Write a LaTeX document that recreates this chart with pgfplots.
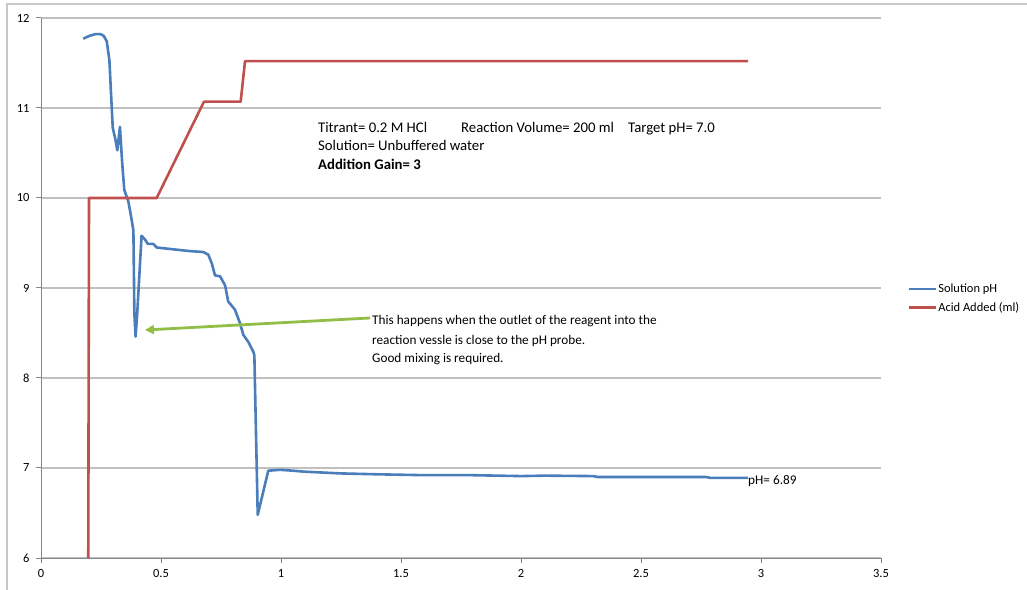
\documentclass[border=0pt]{standalone}
\usepackage{fontspec}
\setmainfont{Carlito}
\usepackage{pgfplots}
\pgfplotsset{compat=1.18}
\usetikzlibrary{arrows.meta}
\definecolor{phblue}{RGB}{74,126,187}
\definecolor{acidred}{RGB}{192,80,77}
\definecolor{arrowgreen}{RGB}{146,190,72}
\definecolor{gridgray}{RGB}{192,192,192}
\definecolor{axisgray}{RGB}{134,134,134}
\definecolor{framegray}{RGB}{200,200,200}

\begin{document}
\begin{tikzpicture}
\useasboundingbox (-41bp,-32bp) rectangle (986bp,558bp);
\draw[framegray, line width=1.6bp] (-34bp,-32bp) -- (-34bp,554bp) -- (986bp,554bp);
\begin{axis}[
  at={(0,0)}, anchor=south west,
  scale only axis, width=840bp, height=540bp,
  xmin=0, xmax=3.5, ymin=6, ymax=12,
  xtick={0,0.5,1,1.5,2,2.5,3,3.5}, ytick={6,7,8,9,10,11,12},
  axis x line*=bottom, axis y line*=left,
  axis line style={axisgray, line width=1bp, -},
  ymajorgrids, grid style={gridgray, line width=1.2bp},
  tick style={axisgray, line width=1bp},
  tick align=outside, major tick length=5bp,
  tick label style={font=\fontsize{12.5}{14}\selectfont, text=black},
  /pgf/number format/assume math mode=true,
  xticklabel style={yshift=-3bp},
  yticklabel style={xshift=-3bp},
  legend style={at={(1.031,0.481)}, anchor=west, draw=none, fill=none,
    font=\fontsize{12.5}{14}\selectfont, row sep=5bp, inner sep=0pt,
    nodes={inner sep=1.5bp}},
  legend cell align=left,
  legend image code/.code={\draw[#1] (0bp,0bp) -- (27bp,0bp);},
]
\addplot[phblue, line width=2.6bp, line join=round] coordinates {
(0.176,11.77) (0.200,11.80) (0.225,11.82) (0.249,11.82) (0.262,11.80)
(0.274,11.74) (0.285,11.53) (0.292,11.15) (0.299,10.78) (0.310,10.65)
(0.318,10.53) (0.329,10.79) (0.338,10.40) (0.347,10.09) (0.364,9.96)
(0.375,9.80) (0.385,9.64) (0.389,8.72) (0.394,8.46) (0.401,8.72)
(0.419,9.58) (0.433,9.54) (0.445,9.49) (0.468,9.49) (0.482,9.45)
(0.550,9.43) (0.620,9.41) (0.676,9.40) (0.697,9.37) (0.712,9.27)
(0.725,9.14) (0.746,9.13) (0.767,9.03) (0.780,8.85) (0.808,8.76)
(0.829,8.61) (0.843,8.48) (0.864,8.40) (0.885,8.29) (0.889,8.25)
(0.903,6.48) (0.947,6.97) (0.996,6.98) (1.050,6.97) (1.093,6.96)
(1.246,6.94) (1.400,6.93) (1.600,6.92) (1.800,6.92) (2.000,6.91)
(2.100,6.915) (2.300,6.91) (2.320,6.90) (2.500,6.90) (2.770,6.90)
(2.790,6.89) (2.946,6.89)
};
\addlegendentry{Solution pH}
\addplot[acidred, line width=2.6bp, line join=round] coordinates {
(0.197,6) (0.200,10) (0.482,10) (0.679,11.07) (0.832,11.07)
(0.850,11.52) (2.946,11.52)
};
\addlegendentry{Acid Added (ml)}

\draw[arrowgreen, line width=2.8bp, -{Triangle[length=9bp,width=9bp]}]
  (axis cs:1.371,8.667) -- (axis cs:0.433,8.533);

\begin{scope}[every node/.style={inner sep=0pt, anchor=base west,
   font=\fontsize{14.8}{17}\selectfont}]
\node at (axis cs:1.154,10.728) {Titrant= 0.2 M HCl};
\node at (axis cs:1.750,10.728) {Reaction Volume= 200 ml};
\node at (axis cs:2.446,10.728) {Target pH= 7.0};
\node at (axis cs:1.154,10.528) {Solution= Unbuffered water};
\node at (axis cs:1.154,10.317) {\bfseries Addition Gain= 3};
\end{scope}
\begin{scope}[every node/.style={inner sep=0pt, anchor=base west,
   font=\fontsize{13.3}{16}\selectfont}]
\node at (axis cs:1.379,8.594) {This happens when the outlet of the reagent into the};
\node at (axis cs:1.379,8.372) {reaction vessle is close to the pH probe.};
\node at (axis cs:1.379,8.172) {Good mixing is required.};
\node at (axis cs:2.946,6.817) {pH= 6.89};
\end{scope}
\end{axis}
\end{tikzpicture}
\end{document}
